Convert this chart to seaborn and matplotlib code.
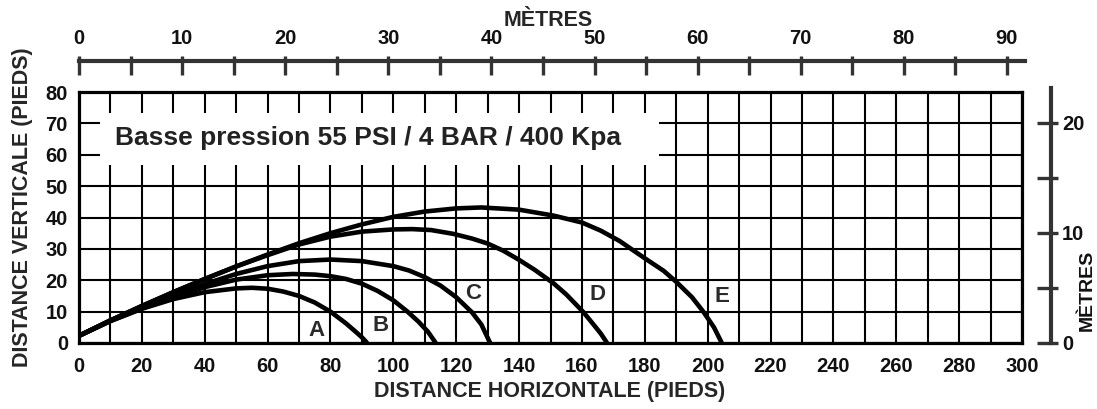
import numpy as np
import pandas as pd
import matplotlib
matplotlib.use("Agg")
import matplotlib.pyplot as plt
from matplotlib.patches import Rectangle
import seaborn as sns

# Trajectoires (pieds)
a_x = [0, 10, 20, 30, 40, 50, 55, 60, 65, 70, 75, 80, 85, 88, 90, 91.7]
a_y = [2.3, 7.0, 10.9, 14.0, 16.2, 17.4, 17.6, 17.3, 16.4, 15.0, 12.9, 10.0, 6.2, 3.6, 1.8, 0]

b_x = [0, 10, 20, 30, 40, 50, 60, 68, 75, 80, 85, 90, 95, 100, 104.5, 108, 111, 113.5]
b_y = [2.3, 7.0, 11.0, 14.6, 17.8, 20.2, 21.6, 22.0, 21.8, 21.3, 20.4, 18.9, 16.6, 13.6, 10.0, 6.8, 3.6, 0]

c_x = [0, 10, 20, 30, 40, 50, 60, 70, 80, 90, 100, 105, 110, 115, 120, 125, 128, 130.8]
c_y = [2.3, 7.2, 11.5, 15.2, 18.8, 22.0, 24.5, 26.1, 26.6, 26.1, 24.5, 23.1, 21.0, 18.3, 14.6, 9.8, 5.9, 0]

d_x = [0, 10, 20, 30, 40, 50, 60, 70, 80, 90, 100, 106, 112, 119, 125, 130, 135, 140,
       145, 151, 155, 160.5, 164, 166, 168]
d_y = [2.3, 7.2, 11.8, 16.2, 20.4, 24.4, 28.0, 31.4, 33.9, 35.5, 36.2, 36.3, 36.0, 34.8,
       33.3, 31.7, 29.4, 26.5, 23.3, 19.0, 15.5, 9.8, 5.5, 3.0, 0]

e_x = [0, 10, 20, 30, 40, 50, 60, 70, 80, 90, 100, 110, 120, 128, 140, 151, 160, 166,
       172, 180, 186, 190, 195, 198.6, 202, 204.5]
e_y = [2.3, 7.2, 11.8, 16.2, 20.4, 24.4, 28.2, 31.8, 35.0, 37.8, 40.2, 41.9, 42.9, 43.2,
       42.5, 40.6, 38.4, 35.8, 32.5, 27.0, 23.0, 19.5, 14.6, 10.0, 5.0, 0]

curve_names = ["A", "B", "C", "D", "E"]
label_x = [75.4, 96, 125.4, 164.8, 204.6]
label_y = [4.1, 5.7, 15.9, 15.3, 14.7]

pieds_x_ticks = list(range(0, 301, 20))
pieds_y_ticks = list(range(0, 81, 10))
metres_top_ticks = list(range(0, 91, 5))
metres_right_ticks = [0, 5, 10, 15, 20]

titre = "Basse pression 55 PSI / 4 BAR / 400 Kpa"

frames = []
for name, xs, ys in zip(curve_names, [a_x, b_x, c_x, d_x, e_x], [a_y, b_y, c_y, d_y, e_y]):
    frames.append(pd.DataFrame({"x": xs, "y": ys, "curve": name}))
df = pd.concat(frames, ignore_index=True)

sns.set_theme(style="white")
plt.rcParams["font.family"] = ["Liberation Sans", "DejaVu Sans"]
plt.rcParams["font.weight"] = "bold"

W, H = 1097, 409
fig = plt.figure(figsize=(W / 100, H / 100), dpi=100)


def px_box(x0, y0, x1, y1):
    return [x0 / W, 1 - y1 / H, (x1 - x0) / W, (y1 - y0) / H]


# graphique principal
ax = fig.add_axes(px_box(79, 92, 1022, 343))
ax.set_xlim(0, 300)
ax.set_ylim(0, 80)
ax.set_xticks(pieds_x_ticks)
ax.set_xticks(range(0, 301, 10), minor=True)
ax.set_yticks(pieds_y_ticks)
ax.set_axisbelow(True)
ax.grid(True, which="both", color="black", linewidth=1.5)
ax.tick_params(axis="both", which="both", length=0)
ax.tick_params(axis="x", pad=10, labelsize=14.5, labelcolor="#111111")
ax.tick_params(axis="y", pad=8, labelsize=14.5, labelcolor="#111111")
for lbl in ax.get_yticklabels():
    lbl.set_va("center_baseline")
for sp in ax.spines.values():
    sp.set_color("black")
    sp.set_linewidth(2.3)
    sp.set_zorder(5)

ax.add_patch(Rectangle((6.7, 56.7), 177.8, 16.5, facecolor="white", edgecolor="none", zorder=1))
ax.text(92, 65.2, titre, ha="center", va="center", fontsize=19, fontweight="bold",
        color="#222222", zorder=3)

sns.lineplot(data=df, x="x", y="y", units="curve", estimator=None, sort=False,
             color="black", linewidth=3.3, ax=ax, zorder=4,
             solid_joinstyle="round", solid_capstyle="butt")
for name, lx, ly in zip(curve_names, label_x, label_y):
    ax.text(lx, ly, name, ha="center", va="center", fontsize=16, fontweight="bold",
            color="#2a2a2a", zorder=4)

ax.set_xlabel("DISTANCE HORIZONTALE (PIEDS)", fontsize=15.5, fontweight="bold", va="center")
ax.xaxis.set_label_coords(0.4995, -0.195)
ax.set_ylabel("DISTANCE VERTICALE (PIEDS)", fontsize=15.5, fontweight="bold", va="center")
ax.yaxis.set_label_coords(-0.0604, 0.54)

# échelle en mètres en haut
axm = fig.add_axes(px_box(79, 61, 1025, 61.001))
axm.set_xlim(0, (1025 - 79) / 10.31)
axm.set_ylim(0, 1)
for k, sp in axm.spines.items():
    sp.set_visible(k == "bottom")
axm.spines["bottom"].set_color("#333333")
axm.spines["bottom"].set_linewidth(3)
axm.set_facecolor("none")
axm.set_yticks([])
axm.set_xticks(metres_top_ticks)
axm.set_xticklabels([str(t) if t % 10 == 0 else "" for t in metres_top_ticks])
axm.tick_params(axis="x", bottom=True, top=True, labelbottom=False, labeltop=True,
                direction="out", length=3.6, width=2.4, color="#333333", pad=5.5,
                labelsize=14.5, labelcolor="#111111")
for t in axm.xaxis.get_major_ticks():
    t.tick1line.set_markersize(10)
axm.xaxis.set_label_position("top")
axm.set_xlabel("MÈTRES", fontsize=15.5, fontweight="bold", va="center")
axm.xaxis.set_label_coords(548 / W, 1 - 20 / H, transform=fig.transFigure)

# échelle en mètres à droite
axr = fig.add_axes(px_box(1051, 88, 1051.001, 343))
axr.set_ylim(0, 255 / 11)
axr.set_xlim(0, 1)
for k, sp in axr.spines.items():
    sp.set_visible(k == "right")
axr.spines["right"].set_color("#333333")
axr.spines["right"].set_linewidth(3)
axr.set_facecolor("none")
axr.set_xticks([])
axr.set_yticks(metres_right_ticks)
axr.set_yticklabels([str(t) if t % 10 == 0 else "" for t in metres_right_ticks])
axr.tick_params(axis="y", left=True, right=True, labelleft=False, labelright=True,
                direction="out", length=5, width=2.4, color="#333333", pad=3,
                labelsize=14.5, labelcolor="#111111")
for t in axr.yaxis.get_major_ticks():
    t.tick1line.set_markersize(10)
fig.text(1087 / W, 1 - 290 / H, "MÈTRES", rotation=90, ha="center", va="center",
         fontsize=14, fontweight="bold", color="#111111")

fig.savefig("out.png", dpi=100, facecolor="white")
